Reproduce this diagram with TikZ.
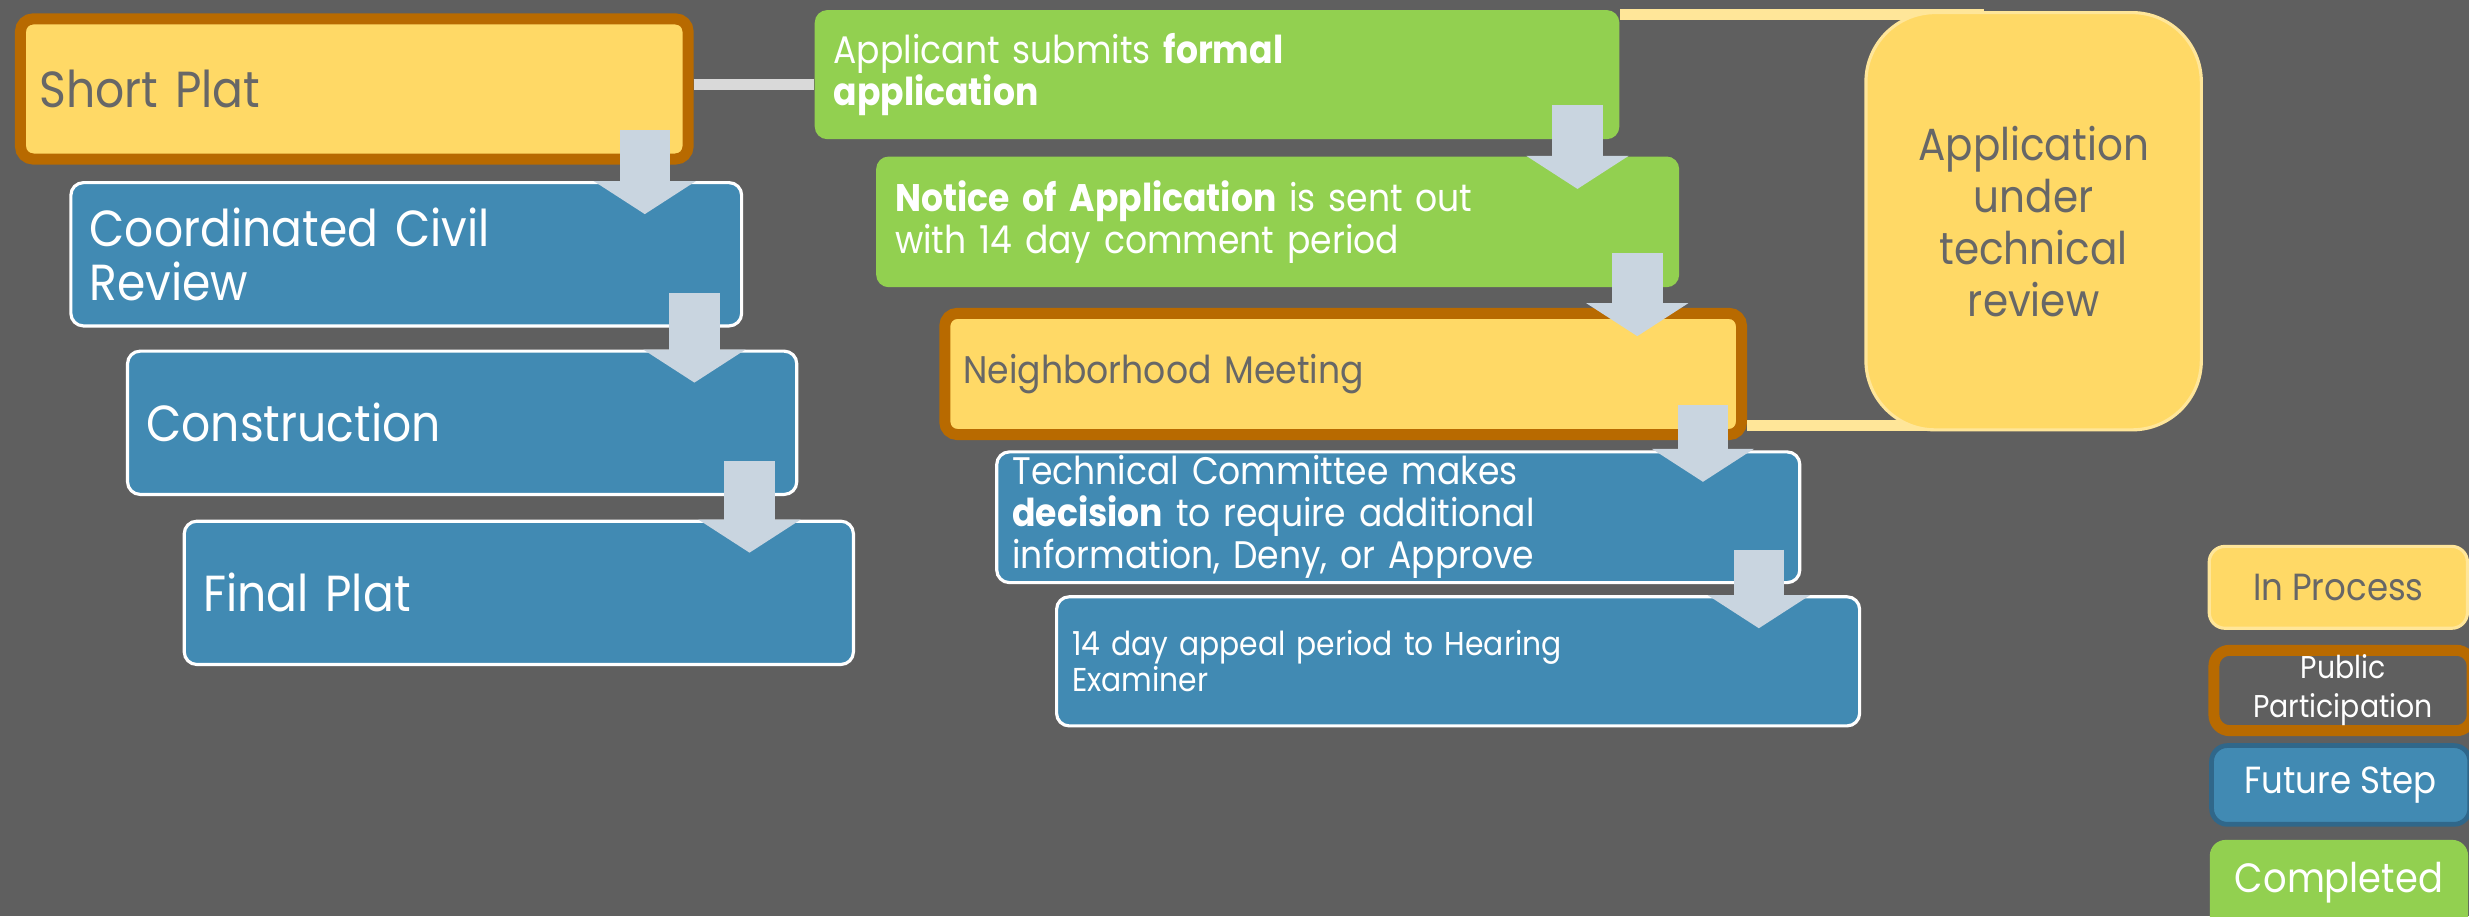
\documentclass[tikz,border=0pt]{standalone}
\usepackage{fontspec}
\setmainfont[FakeStretch=0.9]{Poppins}
\usetikzlibrary{arrows.meta}
\definecolor{pagegray}{HTML}{5F5F5F}
\definecolor{stepyellow}{HTML}{FFD966}
\definecolor{partbrown}{HTML}{B86A00}
\definecolor{textgray}{HTML}{676767}
\definecolor{stepblue}{HTML}{418AB3}
\definecolor{darkblue}{HTML}{30678A}
\definecolor{stepgreen}{HTML}{92D050}
\definecolor{paleyellow}{HTML}{FFE699}
\definecolor{flowgray}{HTML}{C9D5E0}
\definecolor{linkgray}{HTML}{D9D9D9}
\tikzset{
  box/.style={rounded corners=4pt, anchor=north west, align=left, inner xsep=6pt, inner ysep=0pt},
  inprocess/.style={box, fill=stepyellow, draw=partbrown, line width=3.5pt, text=textgray},
  future/.style={box, fill=stepblue, draw=white, line width=1pt, text=white},
  done/.style={box, fill=stepgreen, text=white},
  bigtext/.style={font=\fontsize{16.1}{17.2}\selectfont},
  midtext/.style={font=\fontsize{12.2}{13.3}\selectfont},
  flow/.style={draw=flowgray, line width=16pt, -{Triangle[width=32pt,length=10.5pt]}},
  tie/.style={draw=paleyellow, line width=3.5pt},
  link/.style={draw=linkgray, line width=3.5pt},
  key/.style={rounded corners=5pt, anchor=north west, align=center, inner sep=0pt, minimum width=82pt}
}
\begin{document}
\begin{tikzpicture}[x=0.5pt,y=0.5pt]
\useasboundingbox (0,0) rectangle (1568,-582);
\clip (0,0) rectangle (1568,-582);
\fill[pagegray] (0,0) rectangle (1568,-582);

\node[inprocess, bigtext, minimum width=212pt, minimum height=44.5pt, text width=200pt] (shortplat) at (9.5,-8.5) {Short Plat};
\node[future, bigtext, minimum width=213pt, minimum height=45.5pt, text width=201pt] (civil) at (44,-115) {Coordinated Civil\\Review};
\node[future, bigtext, minimum width=212.5pt, minimum height=45.5pt, text width=200.5pt] (construction) at (80,-222) {Construction};
\node[future, bigtext, minimum width=212.5pt, minimum height=45.5pt, text width=200.5pt] (finalplat) at (116,-330) {Final Plat};

\node[done, midtext, minimum width=255.5pt, minimum height=41pt, text width=243.5pt] (applicant) at (517,-6) {Applicant submits \textbf{formal}\\\textbf{application}};
\node[done, midtext, minimum width=255pt, minimum height=41.5pt, text width=243pt] (notice) at (556,-99) {\textbf{Notice of Application} is sent out\\with 14 day comment period};
\node[inprocess, midtext, minimum width=253pt, minimum height=38.5pt, text width=241pt] (neighborhood) at (596.5,-195.5) {Neighborhood Meeting};
\node[future, midtext, minimum width=255pt, minimum height=41.5pt, text width=245pt, inner xsep=5pt] (technical) at (632,-286) {Technical Committee makes\\\textbf{decision} to require additional\\information, Deny, or Approve};
\node[future, font=\fontsize{10.5}{11.3}\selectfont, minimum width=255pt, minimum height=41pt, text width=245pt, inner xsep=5pt] (appeal) at (670,-378) {14 day appeal period to Hearing\\Examiner};

\coordinate (tietop) at (1260,-9.5);
\coordinate (tiebottom) at ([yshift=4.5pt]neighborhood.south east -| tietop);
\draw[link] ([yshift=1.5pt]shortplat.east) -- ([yshift=1.5pt]shortplat.east -| applicant.west);
\draw[tie] ([yshift=-1.75pt]applicant.north east) -- (tietop);
\draw[tie] ([yshift=4.5pt]neighborhood.south east) -- (tiebottom);

\node[rounded corners=22pt, anchor=north west, fill=stepyellow, draw=paleyellow, line width=1pt, text=textgray, align=center, font=\fontsize{14.3}{16.5}\selectfont, minimum width=106.5pt, minimum height=132.5pt] (review) at (1184,-7) {Application\\under\\technical\\review};

\draw[flow] ([xshift=-15.5pt,yshift=11pt]shortplat.south east) -- ([xshift=-15.5pt,yshift=-10.5pt]shortplat.south east |- civil.north);
\draw[flow] ([xshift=-15.5pt,yshift=11pt]civil.south east) -- ([xshift=-15.5pt,yshift=-10.5pt]civil.south east |- construction.north);
\draw[flow] ([xshift=-15.5pt,yshift=11pt]construction.south east) -- ([xshift=-15.5pt,yshift=-10.5pt]construction.south east |- finalplat.north);
\draw[flow] ([xshift=-13.5pt,yshift=11pt]applicant.south east) -- ([xshift=-13.5pt,yshift=-10.5pt]applicant.south east |- notice.north);
\draw[flow] ([xshift=-13.5pt,yshift=11pt]notice.south east) -- ([xshift=-13.5pt,yshift=-9pt]notice.south east |- neighborhood.north);
\draw[flow] ([xshift=-14pt,yshift=11pt]neighborhood.south east) -- ([xshift=-14pt,yshift=-10pt]neighborhood.south east |- technical.north);
\draw[flow] ([xshift=-13.5pt,yshift=11pt]technical.south east) -- ([xshift=-13.5pt,yshift=-10.5pt]technical.south east |- appeal.north);

\node[key, fill=stepyellow, draw=paleyellow, line width=1pt, text=textgray, font=\fontsize{12}{14}\selectfont, minimum height=26pt] (keyprocess) at (1402,-346) {In Process};
\node[key, fill=pagegray, draw=partbrown, line width=3.5pt, text=white, font=\fontsize{10}{12.3}\selectfont, minimum height=25.5pt] (keypublic) at (1402.5,-409.5) {Public\\Participation};
\node[key, fill=stepblue, draw=darkblue, line width=1.5pt, text=white, font=\fontsize{12}{14}\selectfont, minimum height=25pt] (keyfuture) at (1403,-472) {Future Step};
\node[key, fill=stepgreen, text=white, font=\fontsize{13}{15}\selectfont, minimum height=30pt, text depth=6pt] (keydone) at (1403,-533) {Completed};
\end{tikzpicture}
\end{document}
